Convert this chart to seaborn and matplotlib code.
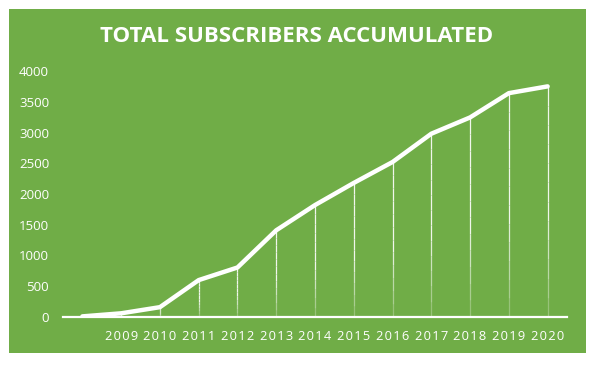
import numpy as np
import pandas as pd
import matplotlib
matplotlib.use("Agg")
import matplotlib.pyplot as plt
import seaborn as sns

years = ["", "2009", "2010", "2011", "2012", "2013", "2014",
         "2015", "2016", "2017", "2018", "2019", "2020"]
subscribers = [10, 60, 160, 600, 805, 1410, 1820, 2180, 2520, 2980, 3245, 3640, 3750]

GREEN = "#70AD47"

df = pd.DataFrame({"pos": range(len(years)), "year": years, "subs": subscribers})

sns.set_style("white")
plt.rcParams["font.family"] = ["Open Sans", "DejaVu Sans"]

fig = plt.figure(figsize=(5.94, 3.65), dpi=100)
fig.patch.set_facecolor("white")
bg = plt.Rectangle((9 / 594, 1 - 353 / 365), 577 / 594, 344 / 365,
                   transform=fig.transFigure, facecolor=GREEN,
                   edgecolor="none", zorder=-5)
fig.patches.append(bg)

ax = fig.add_axes([63 / 594, 48 / 365, 504 / 594, 246 / 365])
ax.set_zorder(2)
ax.set_facecolor("none")

# drop lines, fading towards the axis
for x, y in zip(df["pos"], df["subs"]):
    steps = 12
    edges = np.linspace(0, y, steps + 1)
    for k in range(steps):
        a = 0.15 + 0.75 * min(1, (k + 1) / (steps * 0.5))
        ax.plot([x, x], [edges[k], edges[k + 1]], color="white", lw=0.9,
                alpha=a, solid_capstyle="butt", zorder=2)

sns.lineplot(data=df, x="pos", y="subs", color="white", linewidth=3.2, ax=ax, zorder=3)
ax.lines[-1].set_solid_joinstyle("round")

ax.set_xlim(-0.5, len(years) - 0.5)
ax.set_ylim(0, 4000)
ax.set_yticks(range(0, 4001, 500))
ax.set_xticks(df["pos"])
# slight letter spacing like the original axis labels
ax.set_xticklabels(["\u200a".join(y) for y in years])
ax.set_xlabel("")
ax.set_ylabel("")

for s in ["top", "right", "left"]:
    ax.spines[s].set_visible(False)
ax.spines["bottom"].set_color("white")
ax.spines["bottom"].set_linewidth(1.6)
ax.tick_params(axis="y", length=0, pad=10, labelsize=9.5, colors="white")
ax.tick_params(axis="x", length=0, pad=9, labelsize=9.3, colors="white")

fig.text(297 / 594, 1 - 37 / 365, "TOTAL SUBSCRIBERS ACCUMULATED", color="white",
         fontsize=16, fontweight="bold", ha="center", va="center", zorder=5)

fig.savefig("out.png", dpi=100, facecolor="white")
